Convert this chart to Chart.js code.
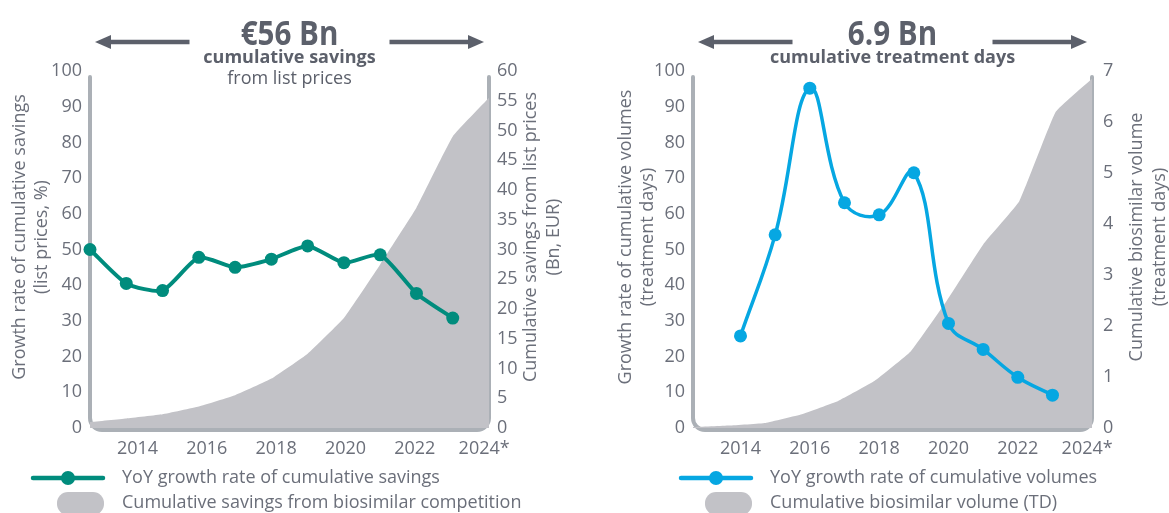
<!DOCTYPE html>
<html>
<head>
<meta charset="utf-8">
<title>Biosimilar savings and volumes</title>
<script src="https://cdn.jsdelivr.net/npm/chart.js@4"></script>
<style>
  html, body { margin: 0; padding: 0; background: #fff; }
  #wrap { position: relative; width: 1169px; height: 513px; overflow: hidden; }
  canvas { position: absolute; top: 0; }
  #savings { left: 0; }
  #volumes { left: 585px; }
</style>
</head>
<body>
<div id="wrap">
  <canvas id="savings" width="585" height="513"></canvas>
  <canvas id="volumes" width="584" height="513"></canvas>
</div>
<script>
// Year labels under both panels
const tickYears = [2014, 2016, 2018, 2020, 2022, 2024];
const tickLabels = ["2014", "2016", "2018", "2020", "2022", "2024*"];

// Savings panel: YoY growth (%) and cumulative savings (Bn EUR)
const savingsYears = [2013, 2014, 2015, 2016, 2017, 2018, 2019, 2020, 2021, 2022, 2023];
const savingsGrowth = [50.0, 40.5, 38.5, 47.8, 45.0, 47.3, 51.0, 46.3, 48.5, 37.7, 30.8];
const savingsCumYears = [2013, 2014, 2015, 2016, 2017, 2018, 2019, 2020, 2021, 2022, 2023, 2024];
const savingsCum = [1.0, 1.6, 2.3, 3.6, 5.5, 8.3, 12.5, 18.5, 27.5, 37.0, 49.0, 55.5];

// Volume panel: YoY growth (%) and cumulative volume (Bn treatment days)
const volumeYears = [2014, 2015, 2016, 2017, 2018, 2019, 2020, 2021, 2022, 2023];
const volumeGrowth = [25.8, 54.1, 95.2, 63.1, 59.7, 71.5, 29.3, 22.0, 14.2, 9.2];
const volumeCumYears = [2013, 2014, 2015, 2016, 2017, 2018, 2019, 2020, 2021, 2022, 2023, 2024];
const volumeCum = [0.02, 0.05, 0.1, 0.27, 0.53, 0.92, 1.5, 2.5, 3.6, 4.45, 6.2, 6.85];

const TEXT = "#6b6f7a";
const HEAD = "#5c606b";
const AREA = "#c2c2c7";
const FRAME = "#abb0b6";
const FONT = "'Open Sans', sans-serif";

Chart.defaults.font.family = FONT;
Chart.defaults.font.size = 18;
Chart.defaults.color = TEXT;

const toPoints = (xs, ys) => xs.map((x, i) => ({ x: x, y: ys[i] }));

function drawArrow(ctx, tail, tip, y) {
  const dir = Math.sign(tip - tail);
  const head = 16;
  ctx.beginPath();
  ctx.moveTo(tail, y);
  ctx.lineTo(tip - dir * head, y);
  ctx.stroke();
  ctx.beginPath();
  ctx.moveTo(tip, y);
  ctx.lineTo(tip - dir * head, y - 7);
  ctx.lineTo(tip - dir * head, y + 7);
  ctx.closePath();
  ctx.fill();
}

function drawVertical(ctx, lines, xs, cy) {
  lines.forEach((line, i) => {
    ctx.save();
    ctx.translate(xs[i], cy);
    ctx.rotate(-Math.PI / 2);
    ctx.fillText(line, 0, 0);
    ctx.restore();
  });
}

// Rounded frame, headline with arrows, axis titles and legend
function decor(cfg) {
  return {
    id: "decor",
    beforeDatasetsDraw(chart) {
      const { ctx } = chart;
      const { left, right, top, bottom } = chart.chartArea;
      const b = bottom + 2;
      const r = 12;
      ctx.save();
      ctx.strokeStyle = FRAME;
      ctx.lineWidth = 4;
      ctx.lineCap = "round";
      ctx.beginPath();
      ctx.moveTo(left, top + 6);
      ctx.lineTo(left, b - r);
      ctx.arcTo(left, b, left + r, b, r);
      ctx.lineTo(right - r, b);
      ctx.arcTo(right, b, right, b - r, r);
      ctx.lineTo(right, top + 6);
      ctx.stroke();
      ctx.restore();
    },
    afterDraw(chart) {
      const { ctx } = chart;
      const { left, right } = chart.chartArea;
      const cx = (left + right) / 2;
      ctx.save();

      // headline (narrow bold)
      ctx.fillStyle = HEAD;
      ctx.strokeStyle = HEAD;
      ctx.textAlign = "center";
      ctx.textBaseline = "alphabetic";
      ctx.font = "bold 34px " + FONT;
      ctx.save();
      ctx.translate(cx, 45);
      ctx.scale(0.87, 1);
      ctx.fillText(cfg.headline, 0, 0);
      ctx.restore();
      ctx.textBaseline = "middle";
      cfg.subLines.forEach((line, i) => {
        ctx.font = (i === 0 ? "bold " : "") + "18px " + FONT;
        ctx.fillText(line, cx, 58 + 21 * i);
      });
      ctx.lineWidth = 4.5;
      drawArrow(ctx, cx - 100, left + 5, 42);
      drawArrow(ctx, cx + 100, right - 5, 42);

      // axis titles
      ctx.fillStyle = TEXT;
      ctx.font = "18px " + FONT;
      drawVertical(ctx, cfg.leftTitle, cfg.leftTitleX, 237);
      drawVertical(ctx, cfg.rightTitle, cfg.rightTitleX, 237);

      // legend
      const x0 = cfg.legendX;
      const line = chart.data.datasets[0];
      const area = chart.data.datasets[1];
      ctx.strokeStyle = line.borderColor;
      ctx.fillStyle = line.borderColor;
      ctx.lineWidth = 4.5;
      ctx.lineCap = "round";
      ctx.beginPath();
      ctx.moveTo(x0, 478);
      ctx.lineTo(x0 + 70, 478);
      ctx.stroke();
      ctx.beginPath();
      ctx.arc(x0 + 35, 478, 7, 0, Math.PI * 2);
      ctx.fill();
      ctx.fillStyle = area.backgroundColor;
      ctx.beginPath();
      ctx.roundRect(x0 + 24, 492, 47, 23, 11);
      ctx.fill();
      ctx.fillStyle = TEXT;
      ctx.textAlign = "left";
      ctx.textBaseline = "middle";
      ctx.fillText(line.label, x0 + 89, 478);
      ctx.fillText(area.label, x0 + 89, 503);
      ctx.restore();
    },
  };
}

function makeChart(id, cfg) {
  return new Chart(document.getElementById(id), {
    type: "line",
    data: {
      datasets: [
        {
          label: cfg.lineLabel,
          data: toPoints(cfg.lineYears, cfg.lineValues),
          xAxisID: cfg.lineAxis,
          yAxisID: "y",
          borderColor: cfg.color,
          backgroundColor: cfg.color,
          borderWidth: cfg.lineWidth,
          tension: cfg.tension,
          pointRadius: 6.5,
          pointBorderWidth: 0,
          pointBackgroundColor: cfg.color,
          fill: false,
          clip: false,
          order: 0,
        },
        {
          label: cfg.areaLabel,
          data: toPoints(cfg.areaYears, cfg.areaValues),
          xAxisID: "x",
          yAxisID: "y1",
          backgroundColor: AREA,
          borderWidth: 0,
          pointRadius: 0,
          tension: 0.1,
          fill: "origin",
          order: 1,
        },
      ],
    },
    options: {
      responsive: false,
      animation: false,
      layout: { padding: { top: 71, left: 0, right: 0, bottom: 0 } },
      plugins: {
        legend: { display: false },
        tooltip: { enabled: false },
      },
      scales: {
        x: { type: "linear", min: 2013, max: 2024, display: false },
        xl: {
          type: "linear",
          position: "bottom",
          min: 2012.63,
          max: 2024.14,
          grid: { display: false, drawTicks: false },
          border: { display: false },
          afterBuildTicks: (s) => {
            s.ticks = tickYears.map((v) => ({ value: v }));
          },
          afterFit: (s) => {
            s.height = 85;
          },
          ticks: {
            padding: 10,
            maxRotation: 0,
            autoSkip: false,
            callback: (v) => tickLabels[tickYears.indexOf(v)],
          },
        },
        y: {
          position: "left",
          min: 0,
          max: 100,
          grid: { display: false, drawTicks: false },
          border: { display: false },
          ticks: { stepSize: 10, padding: 8 },
          afterFit: (s) => {
            s.width = cfg.leftWidth;
          },
        },
        y1: {
          position: "right",
          min: 0,
          max: cfg.rightMax,
          grid: { display: false, drawTicks: false },
          border: { display: false },
          ticks: { stepSize: cfg.rightStep, padding: cfg.rightPad },
          afterFit: (s) => {
            s.width = cfg.rightWidth;
          },
        },
      },
    },
    plugins: [decor(cfg)],
  });
}

makeChart("savings", {
  headline: "€56 Bn",
  subLines: ["cumulative savings", "from list prices"],
  leftTitle: ["Growth rate of cumulative savings", "(list prices, %)"],
  leftTitleX: [20, 42],
  rightTitle: ["Cumulative savings from list prices", "(Bn, EUR)"],
  rightTitleX: [531, 554],
  legendX: 33,
  lineLabel: "YoY growth rate of cumulative savings",
  lineYears: savingsYears,
  lineValues: savingsGrowth,
  lineAxis: "x",
  color: "#008c7d",
  lineWidth: 4,
  tension: 0.2,
  areaLabel: "Cumulative savings from biosimilar competition",
  areaYears: savingsCumYears,
  areaValues: savingsCum,
  rightMax: 60,
  rightStep: 5,
  rightPad: 8,
  leftWidth: 90,
  rightWidth: 96,
});

makeChart("volumes", {
  headline: "6.9 Bn",
  subLines: ["cumulative treatment days"],
  leftTitle: ["Growth rate of cumulative volumes", "(treatment days)"],
  leftTitleX: [41, 63],
  rightTitle: ["Cumulative biosimilar volume", "(treatment days)"],
  rightTitleX: [552, 575],
  legendX: 96,
  lineLabel: "YoY growth rate of cumulative volumes",
  lineYears: volumeYears,
  lineValues: volumeGrowth,
  lineAxis: "xl",
  color: "#06a7e2",
  lineWidth: 3.5,
  tension: 0.4,
  areaLabel: "Cumulative biosimilar volume (TD)",
  areaYears: volumeCumYears,
  areaValues: volumeCum,
  rightMax: 7,
  rightStep: 1,
  rightPad: 11,
  leftWidth: 108,
  rightWidth: 77,
});
</script>
</body>
</html>
